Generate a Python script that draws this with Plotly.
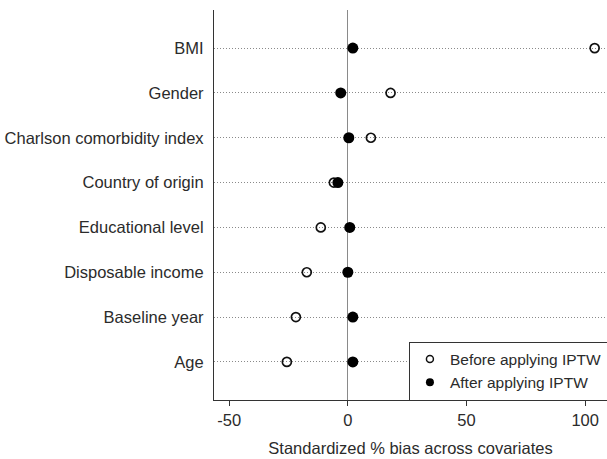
import plotly.graph_objects as go

categories = ["Age", "Baseline year", "Disposable income", "Educational level",
              "Country of origin", "Charlson comorbidity index", "Gender", "BMI"]
before_iptw = [-25.7, -21.9, -17.3, -11.4, -5.9, 9.7, 18.0, 104.0]
after_iptw = [2.1, 2.1, 0.0, 0.8, -4.2, 0.4, -3.0, 2.1]
x_ticks = [-50, 0, 50, 100]

font_family = "Liberation Sans, Arial, sans-serif"
txt = "#2b2b2b"
fs = 16.5

fig = go.Figure()
fig.add_trace(go.Scatter(
    x=before_iptw, y=categories, mode="markers", showlegend=False,
    marker=dict(symbol="circle-open", size=9, color="#111", line=dict(width=1.7, color="#111")),
    cliponaxis=False,
))
fig.add_trace(go.Scatter(
    x=after_iptw, y=categories, mode="markers", showlegend=False,
    marker=dict(symbol="circle", size=11, color="#000"),
    cliponaxis=False,
))
# legend entries with smaller symbols, as in the reference
fig.add_trace(go.Scatter(
    x=[None], y=[None], mode="markers", name="Before applying IPTW",
    marker=dict(symbol="circle-open", size=7, color="#111", line=dict(width=1.5, color="#111")),
))
fig.add_trace(go.Scatter(
    x=[None], y=[None], mode="markers", name="After applying IPTW",
    marker=dict(symbol="circle", size=8, color="#000"),
))

fig.update_layout(
    width=607, height=459,
    margin=dict(l=214, r=0, t=10, b=59, autoexpand=False),
    paper_bgcolor="white", plot_bgcolor="white",
    font=dict(family=font_family, size=fs, color=txt),
    showlegend=True,
    legend=dict(
        x=0.496, y=0.150, xanchor="left", yanchor="top",
        bgcolor="white", bordercolor="#333", borderwidth=1,
        font=dict(size=15.5, color=txt),
        itemsizing="trace", tracegroupgap=0, itemwidth=30,
    ),
    xaxis=dict(
        range=[-56.4, 109.2], tickvals=x_ticks, ticktext=[str(t) for t in x_ticks],
        showgrid=False, zeroline=True, zerolinecolor="#8a8a8a", zerolinewidth=1,
        showline=True, linecolor="#333", linewidth=1.2,
        ticks="outside", ticklen=5, tickcolor="#333",
        title=dict(text="Standardized % bias across covariates", font=dict(size=fs, color=txt), standoff=14),
        tickfont=dict(size=fs, color=txt),
    ),
    yaxis=dict(
        type="category", categoryorder="array", categoryarray=categories,
        range=[-0.85, 7.85],
        showgrid=True, griddash="1px,2px", gridcolor="#8a8a8a", gridwidth=1,
        showline=True, linecolor="#333", linewidth=1.2,
        ticks="", ticklabelstandoff=6,
        tickfont=dict(size=fs, color=txt),
    ),
)

fig.write_html("out.html")
